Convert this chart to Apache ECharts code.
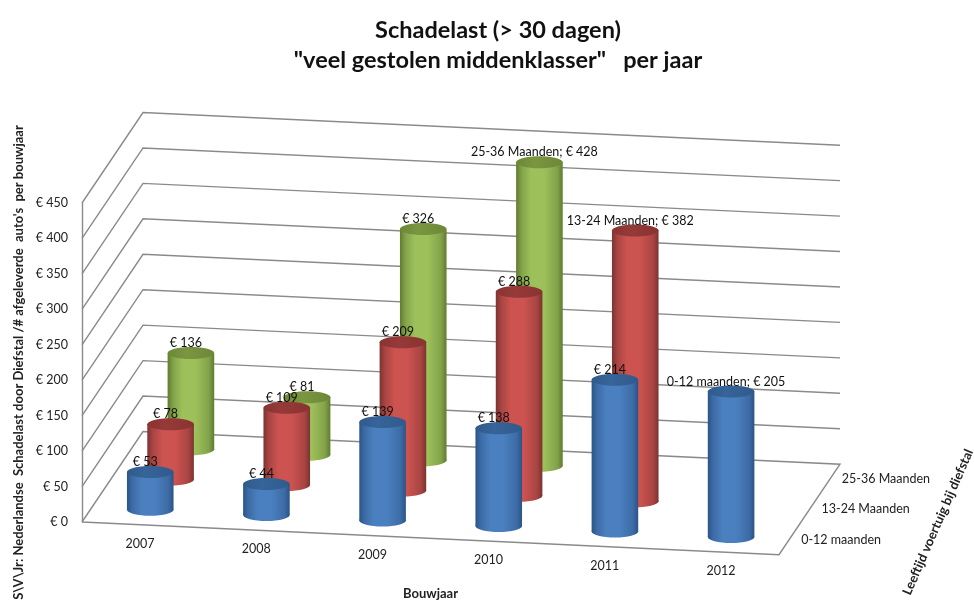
<!DOCTYPE html>
<html>
<head>
<meta charset="utf-8">
<style>
  html, body { margin: 0; padding: 0; background: #fff; }
  #chart { width: 974px; height: 601px; }
</style>
<script src="https://cdn.jsdelivr.net/npm/echarts@6/dist/echarts.min.js"></script>
</head>
<body>
<div id="chart"></div>
<script>
const years = ['2007', '2008', '2009', '2010', '2011', '2012'];
const valueTicks = [0, 50, 100, 150, 200, 250, 300, 350, 400, 450];
const ageNames = ['0-12 maanden', '13-24 Maanden', '25-36 Maanden'];
const young = [53, 44, 139, 138, 214, 205];
const middle = [78, 109, 209, 288, 382, null];
const old = [136, 81, 326, 428, null, null];

const FONT = 'Lato';
const ROWS = 3;
const DEPTH_X = 61;      // full depth of the floor, in px
const DEPTH_Y = -90.5;
const SLOPE = 32.7 / 697; // front edge runs slightly downhill
const LEFT = 82;
const RX = 23.3, RY = 6;

const chart = echarts.init(document.getElementById('chart'));

// front plane pixel -> sheared + pushed back by depth (0..ROWS)
const project = (p, depth) => [
  p[0] + depth / ROWS * DEPTH_X,
  p[1] + (p[0] - LEFT) * SLOPE + depth / ROWS * DEPTH_Y
];

const shade = {
  blue: { edge: '#2b5488', soft: '#3d6ca6', mid: '#4a80c0', top: '#376499', topEdge: '#2f5a8c' },
  red: { edge: '#7c3331', soft: '#a94543', mid: '#cc5350', top: '#953a38', topEdge: '#8a3331' },
  green: { edge: '#5f7c30', soft: '#83a34a', mid: '#9dc05a', top: '#7a9640', topEdge: '#6c8838' }
};

const bodyFill = (c) => ({
  type: 'linear', x: 0, y: 0, x2: 1, y2: 0,
  colorStops: [
    { offset: 0, color: c.edge },
    { offset: 0.12, color: c.soft },
    { offset: 0.32, color: c.mid },
    { offset: 0.6, color: c.mid },
    { offset: 0.88, color: c.soft },
    { offset: 1, color: c.edge }
  ]
});

const cylinderSeries = (name, values, row, c) => ({
  name: name,
  type: 'custom',
  coordinateSystem: 'cartesian2d',
  z: 3 + (2 - row),
  silent: true,
  data: values.map((v, i) => [i, v]).filter(d => d[1] !== null),
  encode: { x: 0, y: 1 },
  renderItem: (params, api) => {
    const xIdx = api.value(0);
    const base = project(api.coord([xIdx, 0]), row + 0.5);
    const top = project(api.coord([xIdx, api.value(1)]), row + 0.5);
    const cx = top[0];
    return {
      type: 'group',
      children: [
        {
          type: 'ellipse',
          shape: { cx: cx, cy: base[1], rx: RX, ry: RY },
          style: { fill: bodyFill(c) }
        },
        {
          type: 'rect',
          shape: { x: cx - RX, y: top[1], width: RX * 2, height: base[1] - top[1] },
          style: { fill: bodyFill(c) }
        },
        {
          type: 'ellipse',
          shape: { cx: cx, cy: top[1], rx: RX, ry: RY },
          style: {
            fill: {
              type: 'linear', x: 0, y: 0, x2: 1, y2: 0,
              colorStops: [
                { offset: 0, color: c.topEdge },
                { offset: 0.4, color: c.top },
                { offset: 1, color: c.topEdge }
              ]
            }
          }
        }
      ]
    };
  }
});

// value labels sit above every cylinder, the last one of each row has the row name too
const labelData = [];
[young, middle, old].forEach((values, row) => {
  const last = values.filter(v => v !== null).length - 1;
  values.forEach((v, i) => {
    if (v === null) return;
    labelData.push([i, v, row, i === last ? ageNames[row] + '; € ' + v : '€ ' + v]);
  });
});

const option = {
  animation: false,
  backgroundColor: '#fff',
  title: {
    text: 'Schadelast (> 30 dagen)\n"veel gestolen middenklasser"   per jaar',
    left: 493,
    top: 10,
    textAlign: 'center',
    textStyle: { fontFamily: FONT, fontSize: 23.5, fontWeight: 'bold', color: '#111', lineHeight: 30 }
  },
  grid: { left: LEFT, top: 203, width: 697, height: 319, containLabel: false, outerBoundsMode: 'none' },
  xAxis: {
    type: 'category',
    data: years,
    axisLine: { show: false },
    axisTick: { show: false },
    axisLabel: { show: false },
    name: 'Bouwjaar',
    nameLocation: 'middle',
    nameGap: 65,
    nameTextStyle: { fontFamily: FONT, fontWeight: 'bold', fontSize: 13, color: '#222' }
  },
  yAxis: {
    type: 'value',
    min: 0,
    max: 450,
    interval: 50,
    splitLine: { show: false },
    axisTick: { show: false },
    axisLine: { show: true, lineStyle: { color: '#8a8a8a', width: 1.4 } },
    axisLabel: {
      margin: 14,
      fontFamily: FONT,
      fontSize: 12.5,
      color: '#222',
      formatter: (v) => '€ ' + v
    },
    name: "S\\V\\Jr: Nederlandse  Schadelast door Diefstal /# afgeleverde  auto's  per bouwjaar",
    nameLocation: 'middle',
    nameRotate: 90,
    nameGap: 48,
    nameTextStyle: { fontFamily: FONT, fontWeight: 'bold', fontSize: 13, color: '#222' }
  },
  graphic: [{
    type: 'text',
    x: 938,
    y: 522,
    rotation: 66.4 * Math.PI / 180,
    style: {
      text: 'Leeftijd voertuig bij diefstal',
      fontFamily: FONT,
      fontWeight: 'bold',
      fontSize: 13,
      fill: '#222',
      align: 'center',
      verticalAlign: 'middle'
    }
  }],
  series: [
    {
      // walls and floor
      type: 'custom',
      coordinateSystem: 'cartesian2d',
      silent: true,
      z: 1,
      data: valueTicks.map(v => [0, v]),
      encode: { y: 1 },
      renderItem: (params, api) => {
        const v = api.value(1);
        const y = api.coord([0, v])[1];
        const frontL = [params.coordSys.x, y];
        const frontR = [params.coordSys.x + params.coordSys.width, y];
        const line = { stroke: '#8a8a8a', lineWidth: 1.4, fill: null };
        const points = [project(frontL, 0), project(frontL, ROWS), project(frontR, ROWS)];
        if (v === 0) {
          points.push(project(frontR, 0), project(frontL, 0));
        }
        return { type: 'polyline', shape: { points: points }, style: line };
      }
    },
    cylinderSeries(ageNames[2], old, 2, shade.green),
    cylinderSeries(ageNames[1], middle, 1, shade.red),
    cylinderSeries(ageNames[0], young, 0, shade.blue),
    {
      // sheared year labels
      type: 'custom',
      coordinateSystem: 'cartesian2d',
      silent: true,
      z: 8,
      data: years.map((y, i) => [i, 0]),
      encode: { x: 0, y: 1 },
      renderItem: (params, api) => {
        const p = project(api.coord([api.value(0), 0]), 0);
        return {
          type: 'text',
          x: p[0],
          y: p[1] + 19,
          style: {
            text: years[api.value(0)],
            fontFamily: FONT,
            fontSize: 12.5,
            fill: '#222',
            align: 'center',
            verticalAlign: 'middle'
          }
        };
      }
    },
    {
      // row names on the right of the floor
      type: 'custom',
      coordinateSystem: 'cartesian2d',
      silent: true,
      z: 8,
      data: ageNames.map((n, i) => [i, 0]),
      encode: { y: 1 },
      renderItem: (params, api) => {
        const row = api.value(0);
        const y = api.coord([0, 0])[1];
        const p = project([params.coordSys.x + params.coordSys.width, y], row + 0.5);
        return {
          type: 'text',
          x: p[0] + 12,
          y: p[1],
          style: {
            text: ageNames[row],
            fontFamily: FONT,
            fontSize: 12.5,
            fill: '#222',
            align: 'left',
            verticalAlign: 'middle'
          }
        };
      }
    },
    {
      type: 'custom',
      coordinateSystem: 'cartesian2d',
      silent: true,
      z: 9,
      data: labelData,
      encode: { x: 0, y: 1 },
      renderItem: (params, api) => {
        const d = labelData[params.dataIndex];
        const p = project(api.coord([d[0], d[1]]), d[2] + 0.5);
        return {
          type: 'text',
          x: p[0] - 5,
          y: p[1] - 10,
          style: {
            text: d[3],
            fontFamily: FONT,
            fontSize: 12.5,
            fill: '#111',
            align: 'center',
            verticalAlign: 'middle'
          }
        };
      }
    }
  ]
};

chart.setOption(option);
</script>
</body>
</html>
